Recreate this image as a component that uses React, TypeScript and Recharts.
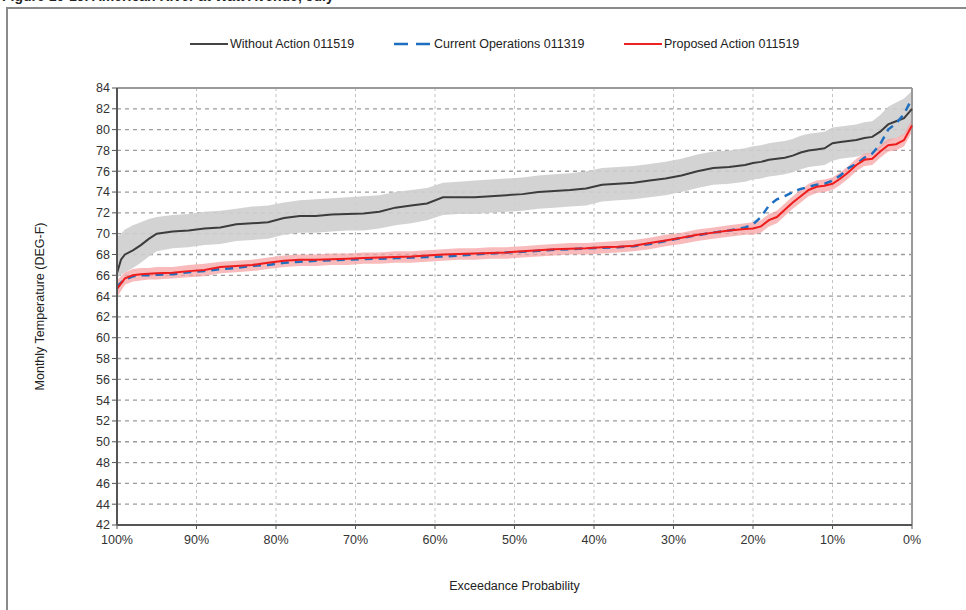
import React from 'react';
import {
  ComposedChart, Line, Area, XAxis, YAxis, CartesianGrid, ReferenceLine, Label,
} from 'recharts';

const prob = [100, 99.5, 99, 98, 97, 96, 95, 93, 91, 89, 87, 85, 83, 81, 79, 77, 75, 73, 71, 69, 67, 65, 63, 61, 59, 57, 55, 53, 51, 49, 47, 45, 43, 41, 39, 37, 35, 33, 31, 29, 27, 25, 23, 21, 20, 19, 18, 17, 16, 15, 14, 13, 12, 11, 10, 9, 8, 7, 6, 5, 4, 3, 2, 1, 0];

const withoutAction = [66.2, 67.5, 68.0, 68.4, 68.9, 69.5, 70.0, 70.2, 70.3, 70.5, 70.6, 70.9, 71.0, 71.1, 71.5, 71.7, 71.7, 71.85, 71.9, 71.95, 72.1, 72.5, 72.7, 72.9, 73.5, 73.5, 73.5, 73.6, 73.7, 73.8, 74.0, 74.1, 74.2, 74.35, 74.7, 74.8, 74.9, 75.1, 75.3, 75.6, 76.0, 76.3, 76.4, 76.6, 76.8, 76.9, 77.1, 77.2, 77.3, 77.5, 77.8, 78.0, 78.1, 78.2, 78.7, 78.8, 78.9, 79.0, 79.2, 79.3, 79.8, 80.5, 80.8, 81.1, 82.0];
const withoutHigh = [69.7, 70.0, 70.4, 70.8, 71.1, 71.4, 71.6, 71.8, 71.9, 72.1, 72.2, 72.4, 72.6, 72.7, 73.0, 73.2, 73.3, 73.4, 73.5, 73.6, 73.7, 74.0, 74.2, 74.4, 74.9, 75.0, 75.1, 75.2, 75.3, 75.4, 75.6, 75.7, 75.8, 76.0, 76.3, 76.4, 76.5, 76.7, 76.9, 77.2, 77.6, 77.9, 78.0, 78.2, 78.4, 78.5, 78.7, 78.8, 78.9, 79.1, 79.4, 79.6, 79.7, 79.8, 80.2, 80.3, 80.4, 80.5, 80.7, 80.8, 81.4, 82.2, 82.6, 83.0, 83.7];
const withoutLow = [65.8, 66.0, 66.3, 66.7, 67.2, 67.8, 68.3, 68.6, 68.7, 68.9, 69.0, 69.3, 69.4, 69.5, 69.9, 70.1, 70.1, 70.2, 70.3, 70.3, 70.5, 70.8, 71.0, 71.3, 71.8, 71.9, 71.9, 72.0, 72.1, 72.2, 72.4, 72.5, 72.6, 72.7, 73.1, 73.2, 73.3, 73.5, 73.7, 74.0, 74.4, 74.7, 74.8, 75.0, 75.2, 75.3, 75.5, 75.6, 75.7, 75.9, 76.2, 76.4, 76.5, 76.6, 77.0, 77.2, 77.3, 77.4, 77.6, 77.7, 78.2, 78.8, 79.2, 79.5, 80.3];

const currentOps = [64.9, 65.3, 65.6, 65.9, 66.0, 66.0, 66.05, 66.1, 66.3, 66.4, 66.6, 66.7, 66.9, 67.0, 67.2, 67.3, 67.4, 67.45, 67.5, 67.55, 67.6, 67.65, 67.7, 67.75, 67.8, 67.9, 68.0, 68.1, 68.2, 68.25, 68.35, 68.45, 68.5, 68.6, 68.65, 68.7, 68.8, 69.0, 69.3, 69.6, 69.85, 70.1, 70.3, 70.6, 70.9, 71.6, 72.7, 73.3, 73.6, 74.0, 74.3, 74.5, 74.7, 74.8, 75.1, 75.6, 76.3, 76.7, 77.3, 77.7, 78.6, 80.0, 80.6, 81.5, 83.0];

const proposed = [64.7, 65.2, 65.7, 66.0, 66.1, 66.15, 66.2, 66.25, 66.4, 66.5, 66.8, 66.9, 67.0, 67.2, 67.4, 67.5, 67.5, 67.55, 67.6, 67.65, 67.7, 67.75, 67.8, 67.9, 68.0, 68.05, 68.1, 68.15, 68.2, 68.3, 68.4, 68.5, 68.55, 68.6, 68.7, 68.75, 68.85, 69.1, 69.35, 69.6, 69.9, 70.1, 70.3, 70.45, 70.5, 70.7, 71.3, 71.6, 72.3, 73.0, 73.6, 74.2, 74.5, 74.6, 74.8, 75.3, 75.9, 76.6, 77.1, 77.2, 77.9, 78.5, 78.6, 79.0, 80.4];
const proposedHigh = [65.5, 65.9, 66.3, 66.6, 66.7, 66.7, 66.8, 66.8, 67.0, 67.1, 67.3, 67.4, 67.5, 67.7, 67.9, 68.0, 68.0, 68.1, 68.1, 68.2, 68.2, 68.3, 68.3, 68.4, 68.5, 68.6, 68.6, 68.7, 68.7, 68.8, 68.9, 69.0, 69.1, 69.1, 69.2, 69.3, 69.4, 69.6, 69.9, 70.1, 70.4, 70.6, 70.8, 71.0, 71.1, 71.3, 71.9, 72.2, 72.9, 73.6, 74.2, 74.8, 75.1, 75.2, 75.4, 75.9, 76.5, 77.2, 77.7, 77.8, 78.5, 79.1, 79.2, 79.6, 81.0];
const proposedLow = [63.9, 64.5, 65.1, 65.4, 65.5, 65.6, 65.6, 65.7, 65.8, 65.9, 66.2, 66.3, 66.4, 66.6, 66.8, 66.9, 66.9, 67.0, 67.0, 67.1, 67.1, 67.2, 67.2, 67.3, 67.4, 67.5, 67.5, 67.6, 67.6, 67.7, 67.8, 67.9, 68.0, 68.0, 68.1, 68.2, 68.3, 68.5, 68.8, 69.0, 69.3, 69.5, 69.7, 69.9, 69.9, 70.1, 70.7, 71.0, 71.7, 72.4, 73.0, 73.6, 73.9, 74.0, 74.2, 74.7, 75.3, 76.0, 76.5, 76.6, 77.3, 77.9, 78.0, 78.4, 79.8];

const xTicks = [100, 90, 80, 70, 60, 50, 40, 30, 20, 10, 0];
const yTicks = [42, 44, 46, 48, 50, 52, 54, 56, 58, 60, 62, 64, 66, 68, 70, 72, 74, 76, 78, 80, 82, 84];

const seriesNames = ['Without Action 011519', 'Current Operations 011319', 'Proposed Action 011519'];
const title = 'Figure 10-19. American River at Watt Avenue, July';

const data = prob.map((p, i) => ({
  p,
  wa: withoutAction[i],
  waBand: [withoutLow[i], withoutHigh[i]],
  co: currentOps[i],
  pa: proposed[i],
  paBand: [proposedLow[i], proposedHigh[i]],
}));

const FONT = '"Liberation Sans", Arial, sans-serif';

function LegendItem({ left, color, dash, label }: { left: number; color: string; dash?: string; label: string }) {
  return (
    <div style={{ position: 'absolute', left, top: 36, height: 16, display: 'flex', alignItems: 'center', whiteSpace: 'nowrap' }}>
      <svg width={38} height={16}>
        <line x1={0} y1={8} x2={38} y2={8} stroke={color} strokeWidth={dash ? 2.5 : 2} strokeDasharray={dash} />
      </svg>
      <span style={{ fontFamily: FONT, fontSize: 12.5, color: '#222', marginLeft: 2 }}>{label}</span>
    </div>
  );
}

export default function App() {
  return (
    <div style={{ position: 'absolute', left: 0, top: 0, width: 966, height: 610, overflow: 'hidden', background: '#fff' }}>
      <div style={{ position: 'absolute', left: 2, top: -12, fontFamily: FONT, fontWeight: 'bold', fontSize: 14, color: '#222', whiteSpace: 'nowrap' }}>{title}</div>
      <div style={{ position: 'absolute', left: 6, top: 7, width: 980, height: 620, border: '2px solid #8a8a8a', boxSizing: 'border-box' }} />
      <LegendItem left={190} color="#444" label={seriesNames[0]} />
      <LegendItem left={394} color="#1f6fc0" dash="14 8" label={seriesNames[1]} />
      <LegendItem left={624} color="#ee2222" label={seriesNames[2]} />
      <div style={{ position: 'absolute', left: 0, top: 0 }}>
        <ComposedChart
          width={966}
          height={610}
          data={data}
          margin={{ top: 88, right: 54, left: 77, bottom: 55 }}
        >
          <CartesianGrid horizontal={true} vertical={false} stroke="#9a9a9a" strokeDasharray="4 4" strokeWidth={1.3} />
          <CartesianGrid horizontal={false} vertical={true} stroke="#c4c4c4" strokeDasharray="3 3" />
          <XAxis
            dataKey="p"
            type="number"
            domain={[0, 100]}
            reversed
            ticks={xTicks}
            interval={0}
            tickFormatter={(v: number) => `${v}%`}
            tick={{ fill: '#333', fontSize: 12.5, fontFamily: FONT, dy: 4 }}
            tickLine={{ stroke: '#555' }}
            tickSize={4}
            axisLine={{ stroke: '#555', strokeWidth: 2 }}
            height={30}
          >
            <Label value="Exceedance Probability" position="insideBottom" offset={-35} fill="#222" fontSize={12.5} fontFamily={FONT} />
          </XAxis>
          <YAxis
            type="number"
            domain={[42, 84]}
            ticks={yTicks}
            interval={0}
            allowDataOverflow
            tick={{ fill: '#333', fontSize: 12.5, fontFamily: FONT }}
            tickLine={{ stroke: '#555' }}
            tickSize={5}
            axisLine={{ stroke: '#555', strokeWidth: 2 }}
            width={40}
          >
            <Label value="Monthly Temperature (DEG-F)" angle={-90} position="insideLeft" offset={-37} fill="#222" fontSize={12.5} fontFamily={FONT} style={{ textAnchor: 'middle' }} />
          </YAxis>
          <ReferenceLine y={84} stroke="#9a9a9a" strokeWidth={2} />
          <ReferenceLine x={0} stroke="#9a9a9a" strokeWidth={2} />
          <Area dataKey="waBand" type="linear" stroke="none" fill="#cecece" fillOpacity={0.9} isAnimationActive={false} />
          <Line dataKey="wa" type="linear" stroke="#3c3c3c" strokeWidth={2} dot={false} isAnimationActive={false} />
          <Area dataKey="paBand" type="linear" stroke="none" fill="#f5a3a3" fillOpacity={0.75} isAnimationActive={false} />
          <Line dataKey="co" type="linear" stroke="#1f6fc0" strokeWidth={2.5} strokeDasharray="8 6" dot={false} isAnimationActive={false} />
          <Line dataKey="pa" type="linear" stroke="#ee1c1c" strokeWidth={2} dot={false} isAnimationActive={false} />
        </ComposedChart>
      </div>
    </div>
  );
}
